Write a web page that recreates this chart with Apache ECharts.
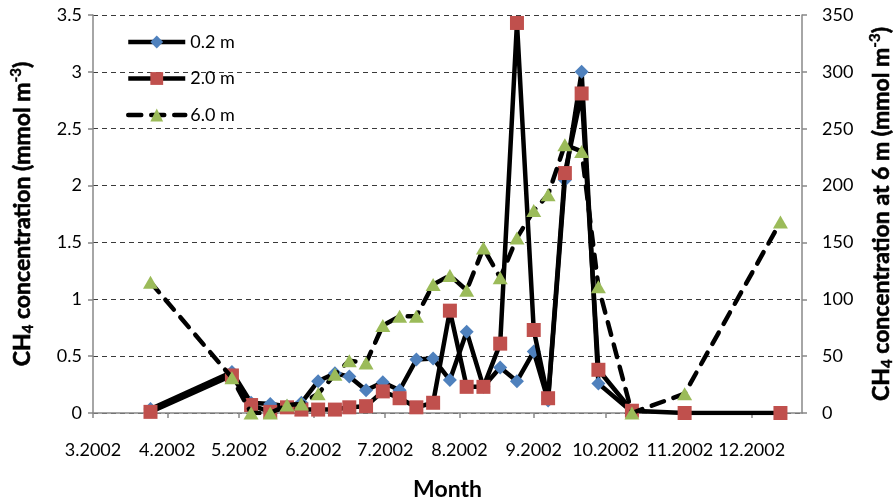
<!DOCTYPE html>
<html>
<head>
<meta charset="utf-8">
<title>CH4 concentration 2002</title>
<script src="https://cdn.jsdelivr.net/npm/echarts@6/dist/echarts.min.js"></script>
<style>
  html, body { margin: 0; padding: 0; background: #fff; }
  #chart { width: 895px; height: 499px; }
</style>
</head>
<body>
<div id="chart"></div>
<script>
// Sampling dates (2002)
const sampleDates = [
  '2002-03-25', '2002-04-28', '2002-05-06', '2002-05-14', '2002-05-21', '2002-05-27',
  '2002-06-03', '2002-06-10', '2002-06-16', '2002-06-23', '2002-06-30', '2002-07-07',
  '2002-07-14', '2002-07-21', '2002-07-28', '2002-08-04', '2002-08-11', '2002-08-18',
  '2002-08-25', '2002-09-01', '2002-09-07', '2002-09-14', '2002-09-21', '2002-09-28',
  '2002-10-12', '2002-11-03', '2002-12-13'
];

// CH4 at 0.2 m depth (mmol m-3), left axis; sampled until mid October
const ch4At02 = [
  0.035, 0.36, 0.09, 0.08, 0.06, 0.09,
  0.28, 0.35, 0.32, 0.20, 0.27, 0.20,
  0.47, 0.48, 0.29, 0.715, 0.23, 0.40,
  0.28, 0.54, 0.11, 2.05, 3.00, 0.26,
  0.01
];

// CH4 at 2.0 m depth (mmol m-3), left axis
const ch4At20 = [
  0.01, 0.33, 0.07, 0.01, 0.05, 0.03,
  0.03, 0.03, 0.05, 0.06, 0.19, 0.13,
  0.05, 0.09, 0.90, 0.23, 0.23, 0.61,
  3.43, 0.73, 0.13, 2.11, 2.81, 0.38,
  0.02, 0.00, 0.00
];

// CH4 at 6.0 m depth (mmol m-3), right axis
const ch4At60 = [
  115, 31, 0, 0, 7, 8,
  17, 34, 46, 44, 77, 85,
  85, 113, 121, 108, 145, 119,
  154, 178, 192, 236, 230, 111,
  0, 17, 168
];

const seriesNames = ['0.2 m', '2.0 m', '6.0 m'];

function toTime(s) {
  const p = s.split('-').map(Number);
  return new Date(p[0], p[1] - 1, p[2]).getTime();
}
function pairs(values) {
  return values.map((v, i) => [toTime(sampleDates[i]), v]);
}

const FONT = 'Lato';

// Vertical axis titles: heavy body text (thin outline thickens the rotated glyphs),
// small subscript "4" and superscript "-3"
const titleStyle = {
  fontFamily: FONT, fontSize: 23, fontWeight: 'bold', color: '#000', lineHeight: 27,
  textBorderColor: '#000', textBorderWidth: 0.6,
  rich: {
    s: { fontFamily: FONT, fontSize: 15, fontWeight: 'bold', lineHeight: 15, verticalAlign: 'bottom', textBorderColor: '#000', textBorderWidth: 0.4 },
    p: { fontFamily: FONT, fontSize: 15, fontWeight: 'bold', lineHeight: 15, verticalAlign: 'top', textBorderColor: '#000', textBorderWidth: 0.4 }
  }
};

const chart = echarts.init(document.getElementById('chart'), null, { renderer: 'canvas' });

const option = {
  animation: false,
  backgroundColor: '#ffffff',
  textStyle: { fontFamily: FONT, color: '#000' },
  grid: { left: 93, right: 93, top: 15, bottom: 86, containLabel: false, outerBoundsMode: 'none' },
  legend: {
    orient: 'vertical',
    left: 121,
    top: 28,
    itemWidth: 57,
    itemHeight: 16,
    itemGap: 18.5,
    data: seriesNames,
    lineStyle: { width: 4.5 },
    textStyle: { fontFamily: FONT, fontSize: 18, color: '#000' }
  },
  xAxis: {
    type: 'time',
    min: toTime('2002-03-01'),
    max: toTime('2002-12-22'),
    splitNumber: 10,
    name: 'Month',
    nameLocation: 'middle',
    nameGap: 65,
    nameTextStyle: { fontFamily: FONT, fontSize: 23, fontWeight: 'bold', color: '#000' },
    axisLine: { show: true, lineStyle: { color: '#888', width: 1.5 } },
    axisTick: { show: true, length: 5, lineStyle: { color: '#888', width: 1.5 } },
    splitLine: { show: false },
    axisLabel: {
      margin: 28,
      fontFamily: FONT,
      fontSize: 18,
      color: '#000',
      hideOverlap: false,
      formatter: function (value) {
        const d = new Date(value);
        return (d.getMonth() + 1) + '.' + d.getFullYear();
      }
    }
  },
  yAxis: [
    {
      type: 'value',
      position: 'left',
      min: 0,
      max: 3.5,
      interval: 0.5,
      name: 'CH{s|4} concentration (mmol m{p|-3})',
      nameLocation: 'middle',
      nameRotate: 90,
      nameGap: 57,
      nameTextStyle: titleStyle,
      axisLine: { show: true, lineStyle: { color: '#888', width: 1.5 } },
      axisTick: { show: true, length: 5, lineStyle: { color: '#888', width: 1.5 } },
      axisLabel: { margin: 11, fontFamily: FONT, fontSize: 18, color: '#000' },
      splitLine: { show: true, lineStyle: { color: '#3a3a3a', width: 1, type: [5, 4] } }
    },
    {
      type: 'value',
      position: 'right',
      min: 0,
      max: 350,
      interval: 50,
      name: 'CH{s|4} concentration at 6 m (mmol m{p|-3})',
      nameLocation: 'middle',
      nameRotate: 90,
      nameGap: 66,
      nameTextStyle: titleStyle,
      axisLine: { show: true, lineStyle: { color: '#888', width: 1.5 } },
      axisTick: { show: true, length: 5, lineStyle: { color: '#888', width: 1.5 } },
      axisLabel: { margin: 20, fontFamily: FONT, fontSize: 18, color: '#000' },
      splitLine: { show: false }
    }
  ],
  series: [
    {
      name: seriesNames[0],
      type: 'line',
      yAxisIndex: 0,
      data: pairs(ch4At02),
      symbol: 'diamond',
      symbolSize: 14,
      itemStyle: { color: '#4F81BD' },
      lineStyle: { color: '#000', width: 4.5 },
      z: 2
    },
    {
      name: seriesNames[1],
      type: 'line',
      yAxisIndex: 0,
      data: pairs(ch4At20),
      symbol: 'rect',
      symbolSize: 14,
      itemStyle: { color: '#C0504D' },
      lineStyle: { color: '#000', width: 4.5 },
      z: 3
    },
    {
      name: seriesNames[2],
      type: 'line',
      yAxisIndex: 1,
      data: pairs(ch4At60),
      symbol: 'triangle',
      symbolSize: [15, 13],
      itemStyle: { color: '#9BBB59' },
      lineStyle: { color: '#000', width: 4.5, type: [13, 10], cap: 'round' },
      z: 4
    }
  ]
};

chart.setOption(option);
</script>
</body>
</html>
